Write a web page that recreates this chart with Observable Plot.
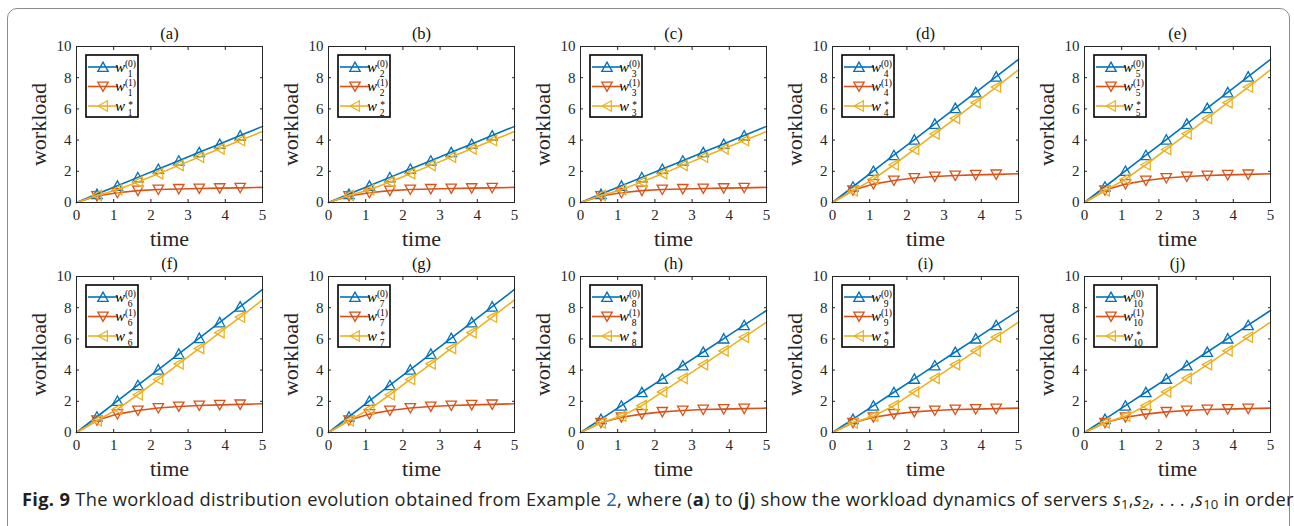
<!DOCTYPE html>
<html><head><meta charset="utf-8">
<script src="https://cdn.jsdelivr.net/npm/d3@7"></script>
<script src="https://cdn.jsdelivr.net/npm/@observablehq/plot@0.6"></script>
<style>
html,body{margin:0;padding:0;background:#fff;}
body{width:1294px;height:526px;overflow:hidden;position:relative;}
#frame{position:absolute;left:7px;top:8px;width:1283px;height:560px;border:1px solid #8c8c8c;border-radius:10px;box-sizing:border-box;}
.panel{position:absolute;}
#caption{position:absolute;left:22px;top:486px;font-family:"Open Sans",sans-serif;font-size:18.3px;letter-spacing:0.31px;white-space:nowrap;color:#231f20;}
#caption sub{font-size:0.72em;vertical-align:-0.25em;line-height:0;letter-spacing:0;}
#caption .lnk{color:#2b5fb4;}
</style></head><body>
<div id="frame"></div>
<div id="chart"></div>
<div id="caption"><b>Fig. 9</b> The workload distribution evolution obtained from Example <span class="lnk">2</span>, where (<b>a</b>) to (<b>j</b>) show the workload dynamics of servers <i>s</i><sub>1</sub>,<i>s</i><sub>2</sub>, . . . ,<i>s</i><sub>10</sub> in order</div>
<script>
// ---- data ----
const time = [0, 0.55, 1.1, 1.65, 2.2, 2.75, 3.3, 3.85, 4.4, 5];
const panelLabels = ["(a)", "(b)", "(c)", "(d)", "(e)", "(f)", "(g)", "(h)", "(i)", "(j)"];
const serverIndex = [1, 2, 3, 4, 5, 6, 7, 8, 9, 10];
const panelGroup = [0, 0, 0, 1, 1, 1, 1, 2, 2, 2];
// group A: servers 1-3
const w0A = [0, 0.54, 1.07, 1.61, 2.15, 2.68, 3.22, 3.75, 4.29, 4.88];
const w1A = [0, 0.42, 0.62, 0.76, 0.83, 0.87, 0.90, 0.92, 0.94, 0.97];
const wsA = [0, 0.45, 0.82, 1.32, 1.85, 2.38, 2.91, 3.44, 3.97, 4.55];
// group B: servers 4-7
const w0B = [0, 1.01, 2.02, 3.03, 4.03, 5.04, 6.05, 7.06, 8.07, 9.17];
const w1B = [0, 0.78, 1.18, 1.41, 1.57, 1.67, 1.73, 1.77, 1.80, 1.84];
const wsB = [0, 0.75, 1.50, 2.42, 3.40, 4.40, 5.39, 6.40, 7.40, 8.50];
// group C: servers 8-10
const w0C = [0, 0.86, 1.72, 2.58, 3.44, 4.30, 5.16, 6.02, 6.88, 7.82];
const w1C = [0, 0.62, 0.98, 1.18, 1.32, 1.41, 1.47, 1.50, 1.53, 1.56];
const wsC = [0, 0.62, 1.05, 1.72, 2.60, 3.47, 4.35, 5.23, 6.11, 7.07];
const xTicks = [0, 1, 2, 3, 4, 5];
const yTicks = [0, 2, 4, 6, 8, 10];
const seriesSup = ["(0)", "(1)", "*"];
const seriesColors = ["#0072BD", "#D95319", "#EDB120"];

const groups = [[w0A, w1A, wsA], [w0B, w1B, wsB], [w0C, w1C, wsC]];

// MATLAB-like triangle markers
const triUp = {draw(c, size) { const s = Math.sqrt(size / Math.PI); c.moveTo(0, -0.95 * s); c.lineTo(s, 0.85 * s); c.lineTo(-s, 0.85 * s); c.closePath(); }};
const triDown = {draw(c, size) { const s = Math.sqrt(size / Math.PI); c.moveTo(0, 0.95 * s); c.lineTo(s, -0.85 * s); c.lineTo(-s, -0.85 * s); c.closePath(); }};
const triLeft = {draw(c, size) { const s = Math.sqrt(size / Math.PI); c.moveTo(-0.95 * s, 0); c.lineTo(0.85 * s, -s); c.lineTo(0.85 * s, s); c.closePath(); }};
const symbols = [triUp, triDown, triLeft];

const W = 252, H = 228, ML = 56, MR = 10, MT = 26, MB = 46;
const ink = "#262626";
const serif = "Liberation Serif";

const chart = document.getElementById("chart");

panelLabels.forEach((lab, i) => {
  const g = groups[panelGroup[i]];
  const rows = time.map((t, k) => ({t, v0: g[0][k], v1: g[1][k], v2: g[2][k]}));
  const pts = rows.slice(1, -1);
  const keys = ["v0", "v1", "v2"];
  const seriesMarks = [];
  keys.forEach((key, s) => {
    seriesMarks.push(Plot.line(rows, {x: "t", y: key, stroke: seriesColors[s], strokeWidth: 1.6}));
    seriesMarks.push(Plot.dot(pts, {x: "t", y: key, symbol: symbols[s], r: 5.2, stroke: seriesColors[s], strokeWidth: 1.3, fill: "none"}));
  });
  const svg = Plot.plot({
    width: W, height: H,
    marginLeft: ML, marginRight: MR, marginTop: MT, marginBottom: MB,
    x: {domain: [0, 5]},
    y: {domain: [0, 10]},
    style: {fontFamily: serif, fontSize: "15px", color: ink, background: "transparent", overflow: "visible"},
    marks: [
      Plot.axisX(xTicks, {anchor: "bottom", tickSize: -3, tickPadding: 10, label: null, fontSize: 15, tickFormat: d => String(d)}),
      Plot.axisX(xTicks, {anchor: "top", tickSize: -3, tickFormat: () => "", label: null}),
      Plot.axisY(yTicks, {anchor: "left", tickSize: -3, tickPadding: 8, label: null, fontSize: 15, tickFormat: d => String(d)}),
      Plot.axisY(yTicks, {anchor: "right", tickSize: -3, tickFormat: () => "", label: null}),
      ...seriesMarks,
      Plot.frame({stroke: ink, strokeWidth: 1}),
      Plot.text([lab], {frameAnchor: "top", dy: -13, lineAnchor: "middle", textAnchor: "middle", text: d => d, fontSize: 16.5, fill: "#111"}),
      Plot.text(["time"], {frameAnchor: "bottom", dy: 36, lineAnchor: "middle", textAnchor: "middle", text: d => d, fontSize: 22, fill: ink}),
      Plot.text(["workload"], {frameAnchor: "left", dx: -38, rotate: -90, lineAnchor: "middle", textAnchor: "middle", text: d => d, fontSize: 22, fill: ink})
    ]
  });

  // legend (decoration, drawn inside the axes box)
  const idx = serverIndex[i];
  const bw = idx >= 10 ? 63 : 52, bh = 62;
  const bx = ML + 10, by = MT + 9;
  const lg = d3.select(svg).append("g").attr("font-family", serif);
  lg.append("rect").attr("x", bx).attr("y", by).attr("width", bw).attr("height", bh)
    .attr("fill", "#fff").attr("stroke", "#000").attr("stroke-width", 1.6);
  seriesSup.forEach((sup, s) => {
    const cy = by + 12 + s * 19.5;
    lg.append("line").attr("x1", bx + 2).attr("x2", bx + 32).attr("y1", cy).attr("y2", cy)
      .attr("stroke", seriesColors[s]).attr("stroke-width", 1.6);
    lg.append("path").attr("transform", `translate(${bx + 17},${cy})`)
      .attr("d", d3.symbol(symbols[s], Math.PI * 5.2 * 5.2)())
      .attr("fill", "none").attr("stroke", seriesColors[s]).attr("stroke-width", 1.3);
    const tx = bx + 34;
    const t = lg.append("text").attr("fill", "#000");
    t.append("tspan").attr("x", tx).attr("y", cy + 4.5).attr("font-style", "italic").attr("font-size", 14.5).text("w");
    t.append("tspan").attr("x", tx + 10.5).attr("y", s === 2 ? cy + 1.5 : cy - 0.5).attr("font-size", 9.5).text(sup);
    t.append("tspan").attr("x", tx + 10).attr("y", cy + 9.5).attr("font-size", 9.5).text(String(idx));
  });

  const col = i % 5, row = Math.floor(i / 5);
  const div = document.createElement("div");
  div.className = "panel";
  div.style.left = (20 + 252 * col) + "px";
  div.style.top = (20 + 230 * row) + "px";
  div.appendChild(svg);
  chart.appendChild(div);
});
</script>
</body></html>
